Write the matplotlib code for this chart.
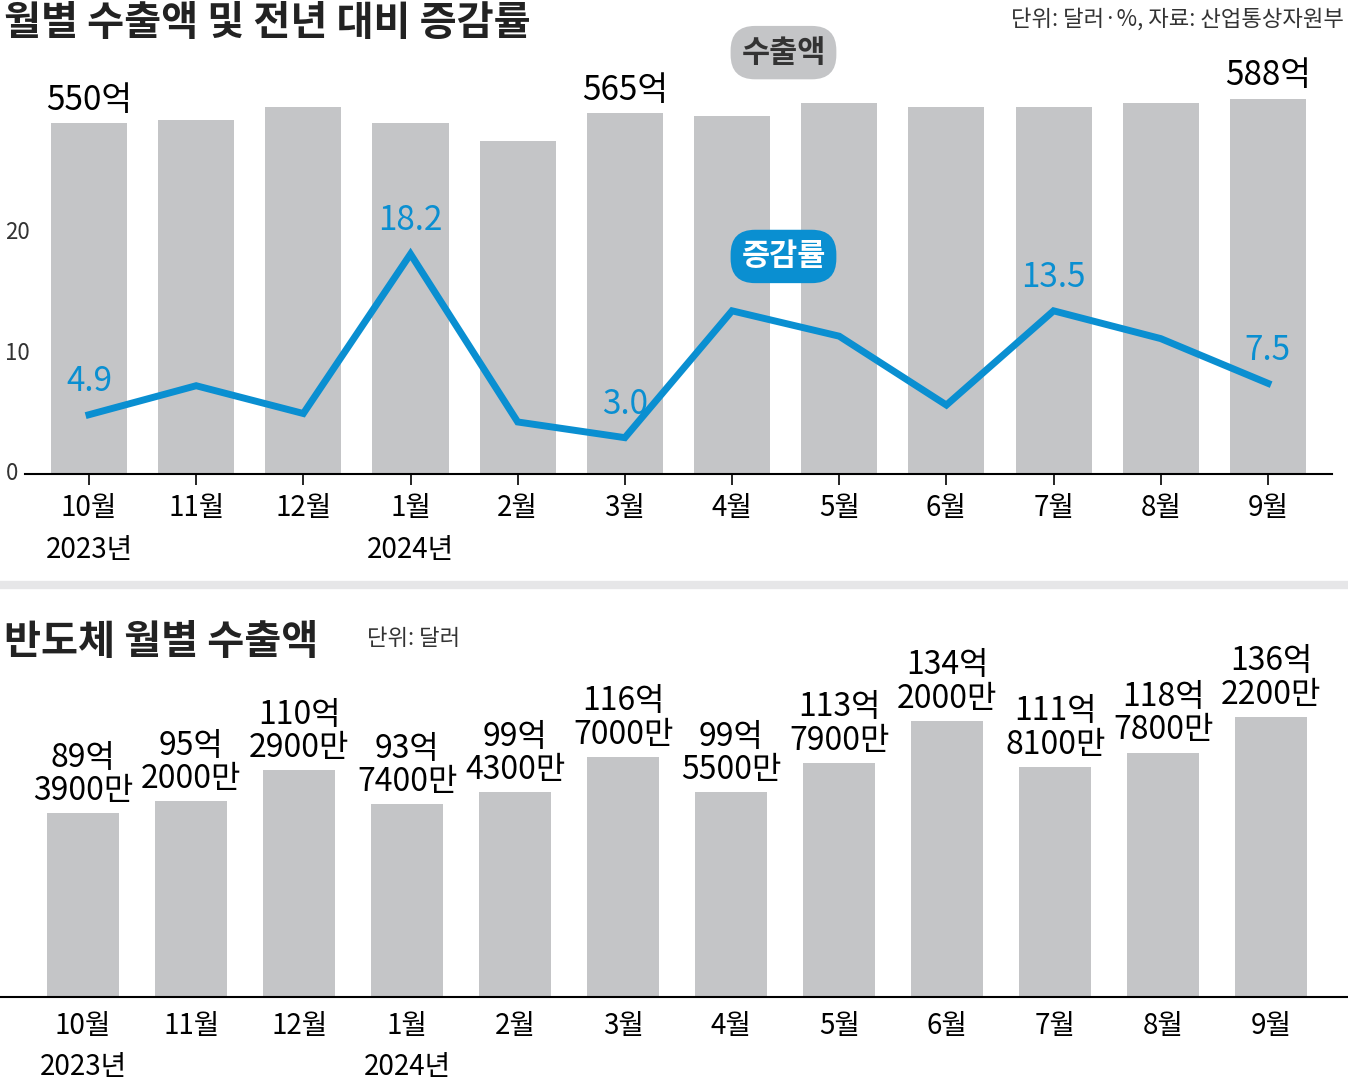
import matplotlib
matplotlib.use('Agg')
import matplotlib.pyplot as plt
from matplotlib.transforms import blended_transform_factory as btf

plt.rcParams['font.family'] = ['Noto Sans CJK KR', 'DejaVu Sans']

months = ['10월', '11월', '12월', '1월', '2월', '3월', '4월', '5월', '6월', '7월', '8월', '9월']
years = {0: '2023년', 3: '2024년'}
exports = [550, 555, 575, 550, 522, 565, 561, 581, 575, 575, 581, 588]
growth = [4.9, 7.3, 5.0, 18.2, 4.3, 3.0, 13.5, 11.4, 5.7, 13.5, 11.2, 7.5]
export_labels = {0: '550억', 5: '565억', 11: '588억'}
growth_labels = {0: '4.9', 3: '18.2', 5: '3.0', 9: '13.5', 11: '7.5'}
chip = [89.39, 95.20, 110.29, 93.74, 99.43, 116.70, 99.55, 113.79, 134.20, 111.81, 118.78, 136.22]
chip_labels = ['89억\n3900만', '95억\n2000만', '110억\n2900만', '93억\n7400만', '99억\n4300만',
               '116억\n7000만', '99억\n5500만', '113억\n7900만', '134억\n2000만', '111억\n8100만',
               '118억\n7800만', '136억\n2200만']

GRAY = '#c4c5c7'
BLUE = '#0a8fd1'
x = list(range(12))

fig = plt.figure(figsize=(13.48, 10.82), dpi=100)

# ---- top chart
ax = fig.add_axes([0.0183, 0.562, 0.970, 0.364])
ax.bar(x, exports, width=0.71, color=GRAY, zorder=1)
ax.set_xlim(-0.6, 11.6)
ax.set_ylim(0, 617)
for i, t in export_labels.items():
    ax.text(i, exports[i] + 8, t, ha='center', va='bottom', fontsize=24)
ax2 = ax.twinx()
ax2.set_ylim(0, 32.6)
ax2.plot(x, growth, color=BLUE, lw=5, solid_joinstyle='miter', zorder=3)
for i, t in growth_labels.items():
    ax2.text(i, growth[i] + 1.3, t, ha='center', va='bottom', fontsize=24, color=BLUE, fontweight='medium')
tr = btf(fig.transFigure, ax2.transData)
for v in [0, 10, 20]:
    ax2.text(0.004, v, str(v), transform=tr, ha='left', va='center', fontsize=16, color='#333')
for a in (ax, ax2):
    for s in a.spines.values():
        s.set_visible(False)
    a.set_yticks([])
ax.spines['bottom'].set_visible(True)
ax.spines['bottom'].set_linewidth(1.5)
ax.set_xticks(x)
ax.set_xticklabels([m + ('\n' + years[i] if i in years else '') for i, m in enumerate(months)],
                   fontsize=20, linespacing=1.5, va='top')
ax.tick_params(axis='x', length=8, width=1.2, pad=6)
ax.text(6.48, 660, '수출액', ha='center', va='center', fontsize=22, fontweight='bold', color='#333',
        bbox=dict(boxstyle='round,pad=0.35,rounding_size=0.8', fc=GRAY, ec='none'))
ax2.text(6.48, 18.0, '증감률', ha='center', va='center', fontsize=22, fontweight='bold', color='white',
         bbox=dict(boxstyle='round,pad=0.35,rounding_size=0.8', fc=BLUE, ec='none'))

fig.text(0.003, 0.978, '월별 수출액 및 전년 대비 증감률', fontsize=29, fontweight='bold', va='center', color='#222')
fig.text(0.997, 0.982, '단위: 달러·%, 자료: 산업통상자원부', fontsize=16, ha='right', va='center', color='#333')

# divider
fig.add_artist(plt.Line2D([0, 1], [0.459, 0.459], color='#e6e6e8', lw=6))

# ---- bottom chart
bx = fig.add_axes([0.0, 0.0786, 1.0, 0.367])
bx.bar(x, chip, width=0.667, color=GRAY)
bx.set_xlim(-0.77, 11.71)
bx.set_ylim(0, 193)
for i, t in enumerate(chip_labels):
    bx.text(i, chip[i] + 3, t, ha='center', va='bottom', fontsize=23, linespacing=1.05)
for s in bx.spines.values():
    s.set_visible(False)
bx.spines['bottom'].set_visible(True)
bx.spines['bottom'].set_linewidth(1.5)
bx.set_yticks([])
bx.set_xticks(x)
bx.set_xticklabels([m + ('\n' + years[i] if i in years else '') for i, m in enumerate(months)],
                   fontsize=20, linespacing=1.5, va='top')
bx.tick_params(axis='x', length=0, pad=10)
fig.text(0.003, 0.406, '반도체 월별 수출액', fontsize=29, fontweight='bold', va='center', color='#222')
fig.text(0.272, 0.41, '단위: 달러', fontsize=16, va='center', color='#333')

fig.savefig('out.png', dpi=100)
